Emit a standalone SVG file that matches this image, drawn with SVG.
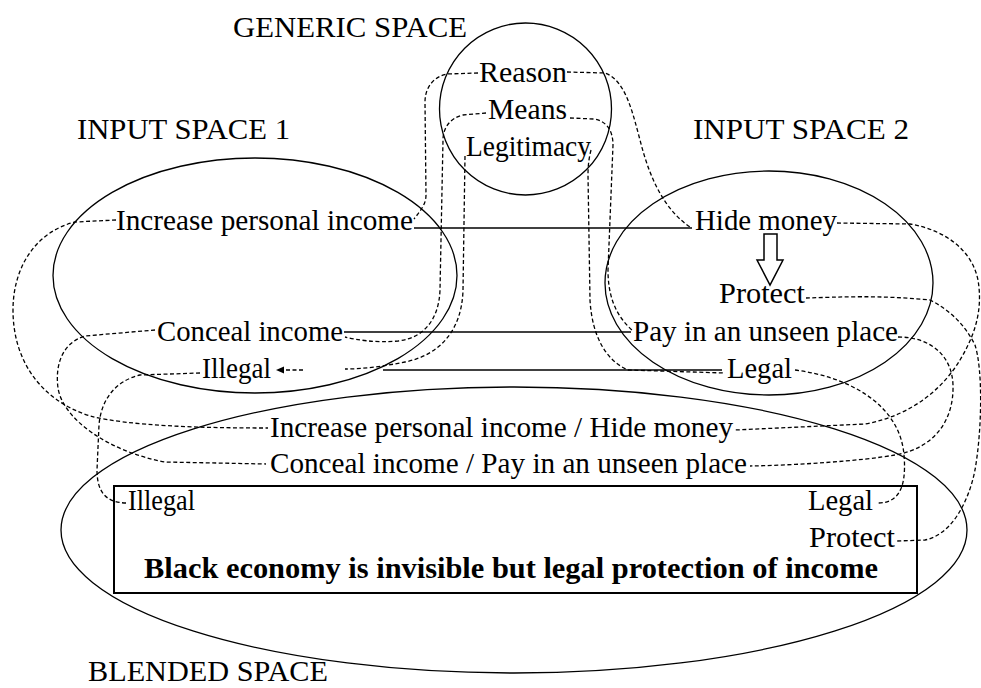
<svg xmlns="http://www.w3.org/2000/svg" width="981" height="688" viewBox="0 0 981 688">
<defs>
<style>
text{font-size:29px;fill:#000}
.b{font-weight:bold;font-size:30px}
.sp{fill:none;stroke:#000;stroke-width:1.3}
.ln{fill:none;stroke:#000;stroke-width:1.5}
.dl{fill:none;stroke:#000;stroke-width:1.3;stroke-dasharray:4 2.5}
.box{fill:none;stroke:#000;stroke-width:2}
.hollow{fill:#fff;stroke:#000;stroke-width:1.5}
</style>
<marker id="ah" markerWidth="8" markerHeight="8" refX="6" refY="4" orient="auto" markerUnits="userSpaceOnUse"><path d="M0,0.5 L8,4 L0,7.5 Z" fill="#000"/></marker>
</defs>
<rect width="981" height="688" fill="#fff"/>
<g font-family="Liberation Serif, Tinos, DejaVu Serif, serif">

<g id="generic-space">
<circle class="sp" cx="525.5" cy="109" r="86"/>
<text x="233" y="37" textLength="234" lengthAdjust="spacingAndGlyphs">GENERIC SPACE</text>
<text x="479" y="82" textLength="88" lengthAdjust="spacingAndGlyphs">Reason</text>
<text x="488" y="119" textLength="79" lengthAdjust="spacingAndGlyphs">Means</text>
<text x="466" y="156" textLength="125" lengthAdjust="spacingAndGlyphs">Legitimacy</text>
</g>

<g id="input-space-1">
<ellipse class="sp" cx="255" cy="275.5" rx="202" ry="117.5"/>
<text x="77" y="139" textLength="213" lengthAdjust="spacingAndGlyphs">INPUT SPACE 1</text>
<text x="116" y="230" textLength="297" lengthAdjust="spacingAndGlyphs">Increase personal income</text>
<text x="157" y="341" textLength="186" lengthAdjust="spacingAndGlyphs">Conceal income</text>
<text x="202" y="378" textLength="69" lengthAdjust="spacingAndGlyphs">Illegal</text>
</g>

<g id="input-space-2">
<ellipse class="sp" cx="769" cy="283" rx="164" ry="112"/>
<text x="693" y="139" textLength="216" lengthAdjust="spacingAndGlyphs">INPUT SPACE 2</text>
<text x="695" y="230" textLength="142" lengthAdjust="spacingAndGlyphs">Hide money</text>
<polygon class="hollow" points="764,234 777,234 777,260 783,260 770,285 757,260 764,260"/>
<text x="719" y="303" textLength="86" lengthAdjust="spacingAndGlyphs">Protect</text>
<text x="633" y="341" textLength="265" lengthAdjust="spacingAndGlyphs">Pay in an unseen place</text>
<text x="727" y="378" textLength="65" lengthAdjust="spacingAndGlyphs">Legal</text>
</g>

<g id="blended-space">
<ellipse class="sp" cx="514" cy="530" rx="453" ry="143"/>
<text x="88" y="681" textLength="240" lengthAdjust="spacingAndGlyphs">BLENDED SPACE</text>
<text x="270" y="437" textLength="463" lengthAdjust="spacingAndGlyphs">Increase personal income / Hide money</text>
<text x="270" y="473" textLength="477" lengthAdjust="spacingAndGlyphs">Conceal income / Pay in an unseen place</text>
</g>

<g id="blend-box">
<rect class="box" x="114" y="486" width="803" height="107"/>
<text x="128" y="510" textLength="67" lengthAdjust="spacingAndGlyphs">Illegal</text>
<text x="808" y="510" textLength="65" lengthAdjust="spacingAndGlyphs">Legal</text>
<text x="809" y="547" textLength="86" lengthAdjust="spacingAndGlyphs">Protect</text>
<text class="b" x="144" y="578" textLength="734" lengthAdjust="spacingAndGlyphs">Black economy is invisible but legal protection of income</text>
</g>

</g>
<g id="connectors">
<line class="ln" x1="414" y1="228" x2="692" y2="228"/>
<line class="ln" x1="344" y1="332" x2="631" y2="332"/>
<line class="ln" x1="383" y1="370" x2="722" y2="370"/>
<path class="dl" d="M303,370 L278,370" marker-end="url(#ah)"/>
<path class="dl" d="M478,73 L447,74 C433,77 425,88 425,102 L426,195 C426,204 421,210 414,219"/>
<path class="dl" d="M567,72 L605,73 C625,80 632,110 640,140 C650,180 665,210 690,227"/>
<path class="dl" d="M486,113 L463,115 C450,118 443,128 443,140 L440,290 C439,318 425,338 398,341 C375,343 358,340 345,337"/>
<path class="dl" d="M465,156 L463,290 C462,330 440,355 405,362 C385,366 365,369 345,369"/>
<path class="dl" d="M591,150 C589,158 588,165 588,175 L590,300 C592,335 605,360 628,370 L725,373"/>
<path class="dl" d="M570,118 L594,119 C606,121 613,130 613,145 L608,270 C608,295 615,315 632,330"/>
<path class="dl" d="M116,220 L75,222 C35,232 13,268 13,310 C13,360 40,400 90,416 C130,426 200,428 268,428"/>
<path class="dl" d="M155,330 L85,336 C62,343 55,365 58,388 C63,420 110,452 165,462 L266,464"/>
<path class="dl" d="M200,373 L140,375 C115,381 101,400 99,425 L97,470 C97,492 106,503 127,503"/>
<path class="dl" d="M837,223 L910,224 C945,230 972,250 978,280 C983,310 975,335 960,360 C945,385 915,415 865,424 L735,430"/>
<path class="dl" d="M806,298 C840,297 880,295 930,300 C950,310 965,325 975,345 C983,370 982,430 975,470 C968,505 950,535 925,540 L897,541"/>
<path class="dl" d="M898,337 C930,337 952,355 953,385 C954,420 935,448 895,455 C860,461 800,465 750,466"/>
<path class="dl" d="M795,370 C850,377 900,405 904,455 C907,490 897,503 878,503"/>
</g>
</svg>
